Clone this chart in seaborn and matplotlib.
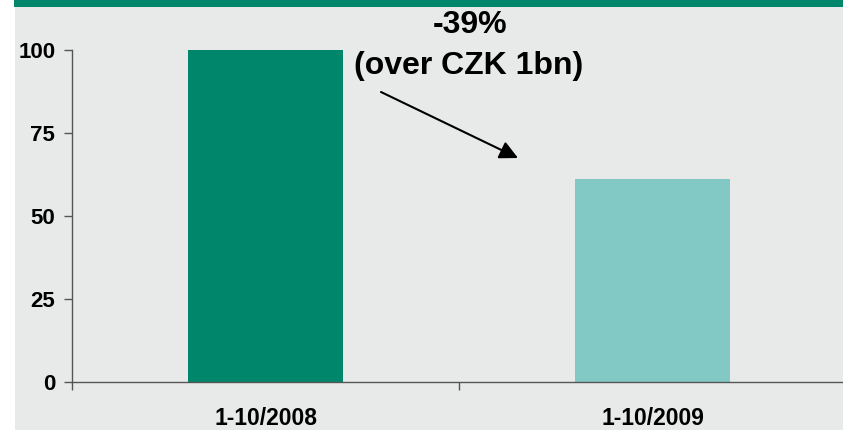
import matplotlib
matplotlib.use("Agg")
import matplotlib.pyplot as plt
import seaborn as sns
import pandas as pd
from matplotlib.patches import Rectangle

# data
periods = ["1-10/2008", "1-10/2009"]
values = [100, 61]
bar_colors = ["#00876B", "#82C9C6"]
y_ticks = [0, 25, 50, 75, 100]
change_label = "-39%"
change_note = "(over CZK 1bn)"

df = pd.DataFrame({"period": periods, "value": values})

sns.set_style("white")
plt.rcParams["font.family"] = ["Liberation Sans", "DejaVu Sans"]
plt.rcParams["font.weight"] = "bold"
plt.rcParams["text.color"] = "black"

W, H = 843, 430
fig = plt.figure(figsize=(W / 100, H / 100), dpi=100)
fig.patch.set_facecolor("white")

# slide background + green band at the top
fig.patches.append(Rectangle((15 / W, 0), 1 - 15 / W, 1 - 7 / H,
                             transform=fig.transFigure, facecolor="#E8E9E9",
                             edgecolor="none", zorder=-10))
fig.patches.append(Rectangle((14 / W, 1 - 7 / H), 1 - 14 / W, 7 / H,
                             transform=fig.transFigure, facecolor="#00876B",
                             edgecolor="none", zorder=-10))

ax = fig.add_axes([72 / W, 48 / H, 774 / W, 332 / H])
ax.set_facecolor("none")

sns.barplot(data=df, x="period", y="value", hue="period", palette=bar_colors,
            width=0.4, legend=False, ax=ax, saturation=1, linewidth=0)

ax.set_xlim(-0.5, 1.5)
ax.set_ylim(0, 100)
ax.set_yticks(y_ticks)
ax.set_xlabel("")
ax.set_ylabel("")

for s in ["top", "right"]:
    ax.spines[s].set_visible(False)
for s in ["left", "bottom"]:
    ax.spines[s].set_color("#555555")
    ax.spines[s].set_linewidth(1.0)

ax.tick_params(axis="y", direction="out", length=6, width=1, color="#555555",
               labelsize=16, pad=6, left=True, labelcolor="black")
ax.tick_params(axis="x", which="major", length=0, labelsize=16.5, pad=18,
               labelcolor="black")
ax.set_xticks([-0.5, 0.5, 1.5], minor=True)
ax.tick_params(axis="x", which="minor", direction="out", length=6, width=1,
               color="#555555", bottom=True)
for lbl in ax.get_xticklabels() + ax.get_yticklabels():
    lbl.set_fontweight("bold")

# change annotation
fig.text(470 / W, 1 - 25 / H, change_label, ha="center", va="center",
         fontsize=23, fontweight="bold", color="black")
fig.text(469 / W, 1 - 66 / H, change_note, ha="center", va="center",
         fontsize=23, fontweight="bold", color="black")
ax.annotate("", xy=(518 / W, 1 - 158 / H), xytext=(381 / W, 1 - 92 / H),
            xycoords="figure fraction", textcoords="figure fraction",
            arrowprops=dict(arrowstyle="-|>,head_length=1.1,head_width=0.55",
                            color="black", lw=1.5, shrinkA=0, shrinkB=0))

fig.savefig("out.png", dpi=100)
